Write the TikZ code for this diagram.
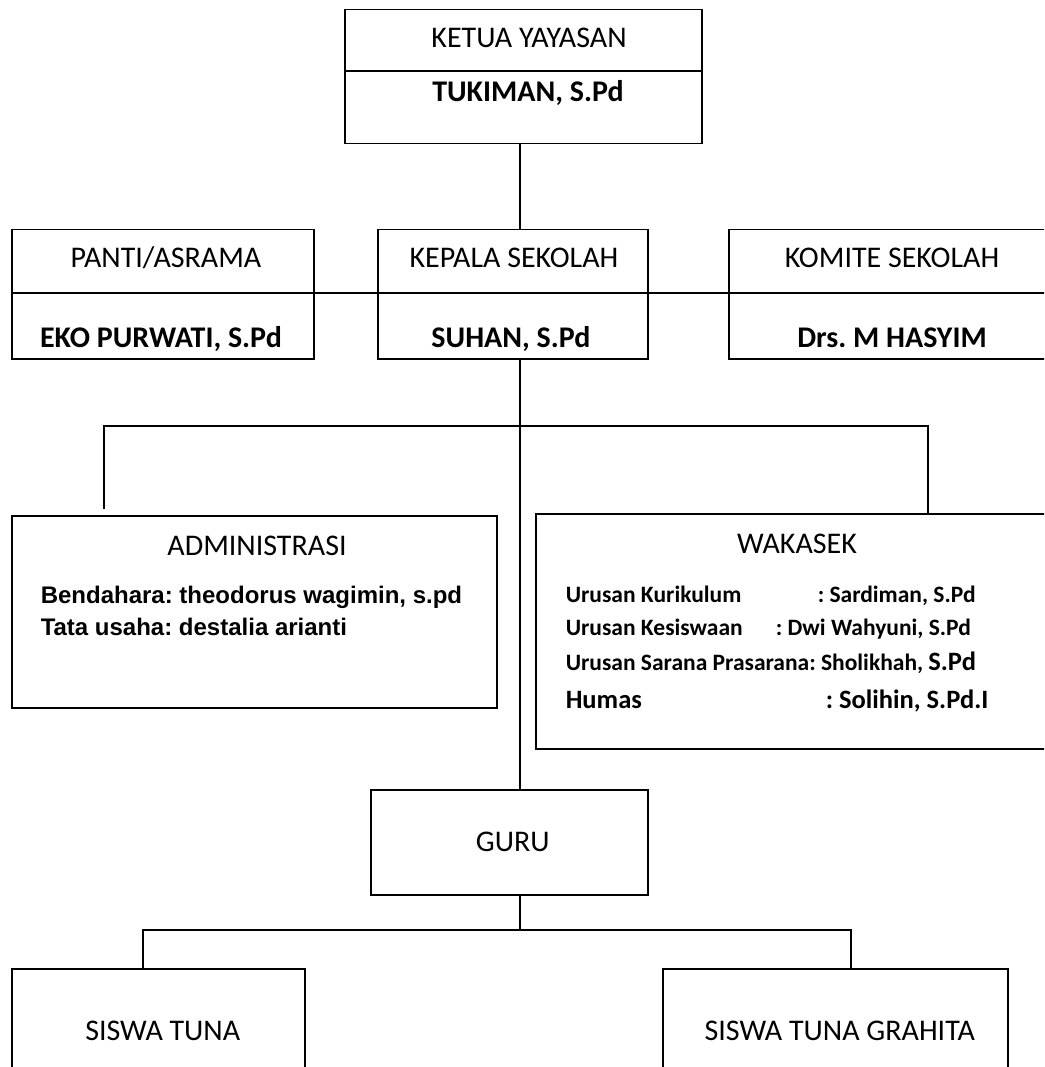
\documentclass[tikz,border=0pt]{standalone}
\usepackage{fontspec}
\setmainfont{Carlito}
\newfontfamily\arialfont{Liberation Sans}
\frenchspacing
\usetikzlibrary{
positioning,
calc
}

\begin{document}
\begin{tikzpicture}[
x=1pt,
y=-1pt,
line width=1.5pt,
box/.style={
draw,
line width=1.5pt,
anchor=north west,
inner sep=0pt,
font=\fontsize{30}{36}\selectfont
},
head/.style={anchor=base, inner sep=0pt, font=\fontsize{30}{36}\selectfont},
who/.style={anchor=base, inner sep=0pt, font=\fontsize{30}{36}\selectfont\bfseries},
staff/.style={anchor=base west, inner sep=0pt, font=\arialfont\bfseries\fontsize{24}{28}\selectfont},
duty/.style={anchor=base west, inner sep=0pt, font=\bfseries\fontsize{23.5}{28}\selectfont}
]
\useasboundingbox (0,0) rectangle (1044,1067);
\clip (0,0) rectangle (1044,1067);

\coordinate (spine) at (520,0);
\coordinate (fork) at (520,426);
\coordinate (fork2) at (520,930);

\node[box, minimum width=357pt, minimum height=134pt] (ketua) at (344,9) {};
\draw ($(ketua.north west)+(0,62)$) -- ($(ketua.north east)+(0,62)$);
\node[head] (ketua head) at (529,48) {KETUA YAYASAN};
\node[who] (ketua who) at (528,102) {TUKIMAN, S.Pd};

\node[box, minimum width=302pt, minimum height=129pt] (panti) at (11,229) {};
\node[box, minimum width=270pt, minimum height=129pt] (kepsek) at (377,229) {};
\node[box, minimum width=330pt, minimum height=129pt] (komite) at (728,229) {};
\draw ($(panti.north west)+(0,64)$) -- ($(komite.north east)+(0,64)$);
\node[head] (panti head) at (166,267) {PANTI/ASRAMA};
\node[who] (panti who) at (161,347) {EKO PURWATI, S.Pd};
\node[head] (kepsek head) at (514,267) {KEPALA SEKOLAH};
\node[who] (kepsek who) at (511,347) {SUHAN, S.Pd};
\node[head] (komite head) at (892,267) {KOMITE SEKOLAH};
\node[who] (komite who) at (892,347) {Drs. M HASYIM};

\node[box, minimum width=485pt, minimum height=192pt] (admin) at (11,515) {};
\node[box, minimum width=517pt, minimum height=235pt] (wakasek) at (535,513) {};
\node[head] (admin head) at (257,555) {ADMINISTRASI};
\node[staff] (bendahara) at (40,603) {Bendahara: theodorus wagimin, s.pd};
\node[staff] (tatausaha) at (40,635) {Tata usaha: destalia arianti};
\node[head] (wakasek head) at (797,553) {WAKASEK};
\node[duty] (kurikulum) at (565,602) {\makebox[252pt][l]{Urusan Kurikulum}: Sardiman, S.Pd};
\node[duty] (kesiswaan) at (565,635) {\makebox[210pt][l]{Urusan Kesiswaan}: Dwi Wahyuni, S.Pd};
\node[duty] (sarpras) at (565,670) {Urusan Sarana Prasarana: Sholikhah, {\fontsize{26.5}{30}\selectfont S.Pd}};
\node[duty, font=\bfseries\fontsize{26.5}{30}\selectfont] (humas) at (565,708) {\makebox[260pt][l]{Humas}: Solihin, S.Pd.I};

\node[box, minimum width=277pt, minimum height=105pt] (guru) at (370,789) {\hspace*{7pt}GURU};
\node[box, minimum width=293pt, minimum height=124pt] (tuna) at (11,968) {\hspace*{9pt}SISWA TUNA};
\node[box, minimum width=345pt, minimum height=124pt] (grahita) at (662,968) {\hspace*{9pt}SISWA TUNA GRAHITA};

\draw (ketua.south -| spine) -- (kepsek.north -| spine);
\draw (kepsek.south -| spine) -- (guru.north -| spine);
\draw ([xshift=93pt,yshift=6pt]admin.north west) |- (fork) -| ([xshift=393pt]wakasek.north west);
\draw (guru.south -| spine) -- (fork2);
\draw ([xshift=132pt]tuna.north west) |- (fork2) -| ([xshift=189pt]grahita.north west);

\end{tikzpicture}
\end{document}
